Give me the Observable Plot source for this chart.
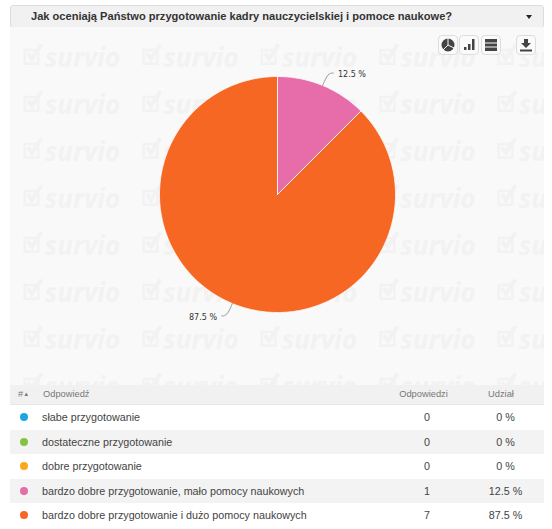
<!DOCTYPE html>
<html><head><meta charset="utf-8">
<script src="https://cdn.jsdelivr.net/npm/d3@7"></script>
<script src="https://cdn.jsdelivr.net/npm/@observablehq/plot@0.6"></script>
<style>
html,body{margin:0;padding:0;background:#fff;width:552px;height:529px;overflow:hidden;font-family:"Liberation Sans",Arial,sans-serif;color:#444}
#head{position:absolute;left:10px;top:5px;width:532px;height:21px;background:#f1f1f1;border:1px solid #ddd;border-radius:3px;font-weight:bold;font-size:11.1px;line-height:21px;color:#333;text-indent:20px}
#head i{position:absolute;right:11px;top:9px;width:0;height:0;border:3px solid transparent;border-top:4px solid #222;border-bottom:0}
#panel{position:absolute;left:10px;top:27px;width:534px;height:358px;background:#f9f9f9;overflow:hidden}
.wm{position:absolute;font:italic bold 26px "Open Sans",sans-serif;color:#f2f2f2;padding-left:22px;line-height:26px;white-space:nowrap}
.wm svg{position:absolute;left:0;top:-3px}
.btn{position:absolute;top:35px;width:18px;height:18px;background:#fafafa;border:1px solid #ddd;border-radius:4px}
.btn svg{position:absolute;left:0;top:0}
#tbl{position:absolute;left:10px;top:385px;width:534px;font-size:10.75px}
.r{position:relative;height:24.5px;line-height:24.5px;background:#fff}
.r:nth-child(odd){background:#f3f3f3}
.r.h{height:19px;line-height:19px;background:#f1f1f1;font-size:9.3px;color:#777;border-bottom:1px solid #e6e6e6}
.a,.c,.s{position:absolute}.a{left:32px}.c{left:387px;width:60px;text-align:center}.s{left:465.5px;width:60px;text-align:center}
.d{position:absolute;left:10px;top:8px;width:8px;height:8px;border-radius:50%}
</style></head><body>
<div id="head">Jak oceniają Państwo przygotowanie kadry nauczycielskiej i pomoce naukowe?<i></i></div>
<div id="panel"></div>
<div class="btn" style="left:438px"><svg width="18" height="18"><circle cx="9" cy="9" r="6.5" fill="#444"/><path d="M9 9L9 2M9 9L15 12M9 9L4 14" stroke="#fafafa"/></svg></div>
<div class="btn" style="left:459px"><svg width="18" height="18"><path d="M4 11h2.5v3H4zM8 8h2.5v6H8zM12 3h2.5v11H12z" fill="#444"/></svg></div>
<div class="btn" style="left:481px"><svg width="18" height="18"><path d="M3 3h12v3.4H3zM3 7.4h12v3.2H3zM3 11.6h12v3.4H3z" fill="#444"/></svg></div>
<div class="btn" style="left:516px"><svg width="18" height="18"><path d="M7 3h4v4h3l-5 5-5-5h3zM3 13.5h12v2H3z" fill="#444"/></svg></div>
<div id="tbl"></div>
<script>
const answers=["słabe przygotowanie","dostateczne przygotowanie","dobre przygotowanie","bardzo dobre przygotowanie, mało pomocy naukowych","bardzo dobre przygotowanie i dużo pomocy naukowych"];
const counts=[0,0,0,1,7];
const shares=["0 %","0 %","0 %","12.5 %","87.5 %"];
const colors=["#1ba6e2","#82c341","#fca71e","#e76daa","#f56723"];
const columns=["#","Odpowiedź","Odpowiedzi","Udział"];
const sliceLabels=["12.5 %","87.5 %"];

const panel=document.getElementById("panel");
for(let r=0;r<8;r++)for(let c=0;c<5;c++){
  const w=document.createElement("div");w.className="wm";w.textContent="survio";
  w.style.left=(13+c*118.5)+"px";w.style.top=(17+r*47)+"px";
  w.innerHTML+='<svg width="21" height="26" viewBox="0 0 26 30"><path d="M2 10h17v17H2z" fill="none" stroke="#f2f2f2" stroke-width="3"/><path d="M6 14l5 7L23 3" fill="none" stroke="#f2f2f2" stroke-width="5"/></svg>';
  panel.appendChild(w);
}

// pie built from the answer counts
const R=118,W=534,H=358,cx=267,cy=167;
const arcs=d3.pie().sort(null)(counts).filter(a=>a.value>0);
const pt=(ang,r)=>[r*Math.sin(ang),r*Math.cos(ang)];
const poly=[];
arcs.forEach((a,i)=>{
  const n=Math.ceil((a.endAngle-a.startAngle)/0.01);
  poly.push({k:i,p:[0,0]});
  d3.range(n+1).forEach(j=>poly.push({k:i,p:pt(a.startAngle+(a.endAngle-a.startAngle)*j/n,1)}));
  poly.push({k:i,p:[0,0]});
});
const arcColors=colors.filter((c,i)=>counts[i]>0);
const leaderPts=[];
const labelPts=[];
arcs.forEach((a,i)=>{
  const t=(a.startAngle+a.endAngle)/2,sx=Math.sign(Math.sin(t)),sy=Math.sign(Math.cos(t));
  const [x0,y0]=pt(t,1.0);
  const x1=x0+sx*0.045,y1=y0+sy*0.105,x2=x1+sx*0.045;
  leaderPts.push({k:i,x:x0,y:y0},{k:i,x:x1,y:y1},{k:i,x:x2,y:y1});
  labelPts.push({x:x2+sx*0.04,y:y1-0.012,t:sliceLabels[i],anchor:sx>0?"start":"end"});
});
const chart=Plot.plot({
  width:W,height:H,margin:0,
  x:{domain:[-cx/R,(W-cx)/R],axis:null},
  y:{domain:[(cy-H)/R,cy/R],axis:null},
  style:{background:"transparent"},
  marks:[
    Plot.line(poly,{x:d=>d.p[0],y:d=>d.p[1],z:"k",fill:d=>arcColors[d.k],stroke:"#fff",strokeWidth:0.8,curve:"linear"}),
    Plot.line(leaderPts,{x:"x",y:"y",z:"k",stroke:"#999",strokeWidth:1,curve:"basis"}),
    Plot.text(labelPts.filter(d=>d.anchor==="start"),{x:"x",y:"y",text:"t",textAnchor:"start",fontSize:8,fontFamily:"DejaVu Sans",fill:"#333"}),
    Plot.text(labelPts.filter(d=>d.anchor==="end"),{x:"x",y:"y",text:"t",textAnchor:"end",fontSize:8,fontFamily:"DejaVu Sans",fill:"#333"})
  ]
});
chart.style.position="absolute";chart.style.left="0";chart.style.top="0";
panel.appendChild(chart);

const tbl=document.getElementById("tbl");
let html=`<div class="r h"><span class="a" style="left:8px">${columns[0]}<span style="font-size:6px;vertical-align:1px">▲</span></span><span class="a" style="left:33px">${columns[1]}</span><span class="c" style="left:383.5px">${columns[2]}</span><span class="s" style="left:461px">${columns[3]}</span></div>`;
answers.forEach((a,i)=>{html+=`<div class="r"><span class="d" style="background:${colors[i]}"></span><span class="a">${a}</span><span class="c">${counts[i]}</span><span class="s">${shares[i]}</span></div>`;});
tbl.innerHTML=html;
</script></body></html>
